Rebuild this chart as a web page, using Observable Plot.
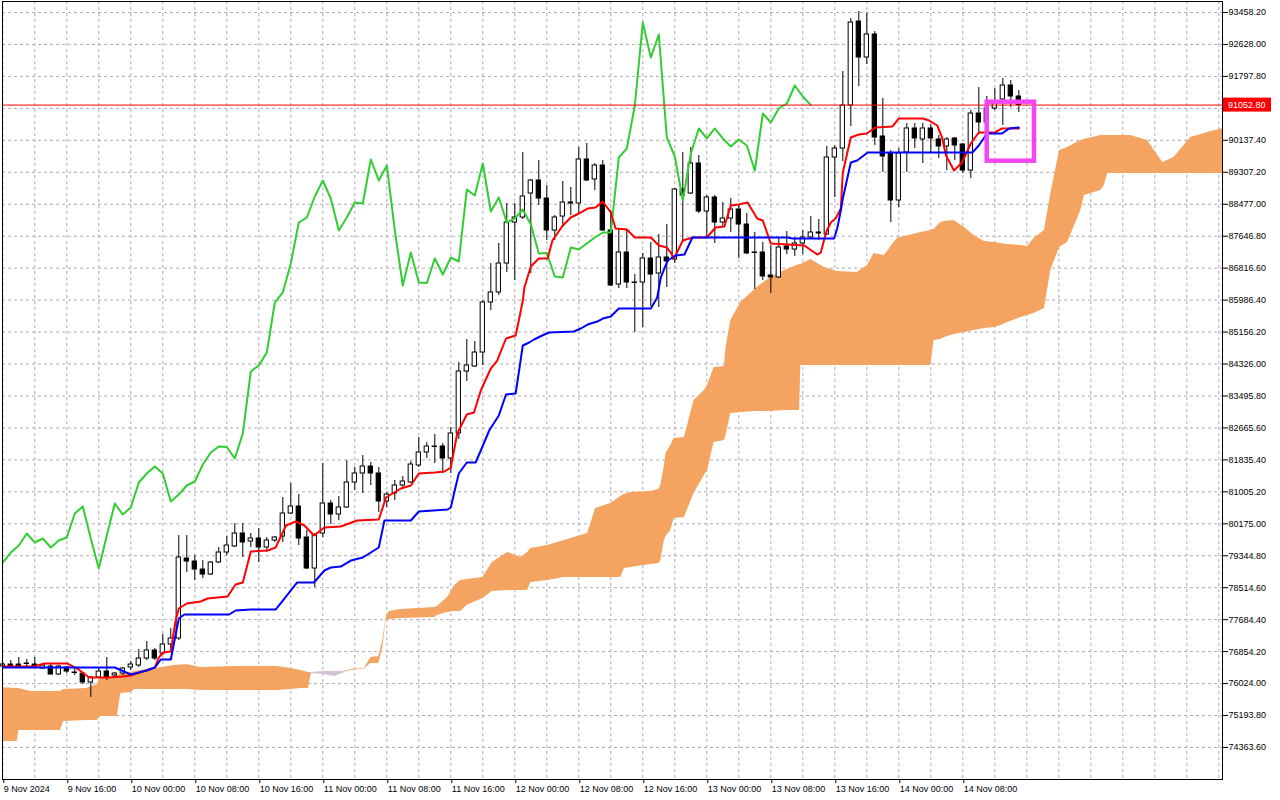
<!DOCTYPE html>
<html><head><meta charset="utf-8">
<script src="https://cdn.jsdelivr.net/npm/d3@7"></script>
<script src="https://cdn.jsdelivr.net/npm/@observablehq/plot@0.6"></script>
<style>body{margin:0;background:#fff;overflow:hidden}#chart{width:1280px;height:800px}</style>
</head><body><div id="chart"></div>
<script>
// H1 candles, 9 Nov 08:00 .. 14 Nov 15:00 (index 0..127)
const opens = [
76467,76519,76519,76545,76519,76415,76467,76259,76441,76311,
76285,76052,76181,76337,76233,76285,76441,76493,76675,76883,
76805,77039,77195,79273,79195,78987,78857,79169,79429,79585,
79923,79715,79793,79559,79741,79845,80442,80624,79819,79013,
79923,80702,80416,80598,81248,81482,81663,81482,80754,80962,
81170,81248,81689,82027,82183,82183,81871,82521,84131,84261,
84625,85924,86184,86937,88002,88132,88756,89094,88626,87795,
88158,88522,88496,89639,89120,89483,87795,86392,87223,86444,
86444,87067,86677,87093,87041,88860,88756,89535,88288,88652,
88002,88106,88340,87950,87223,87223,86626,86574,87379,87301,
87457,87613,87717,87691,89691,89925,91042,93224,92289,92887,
90237,89795,88574,89821,90445,90159,90445,90159,89977,90185,
90029,89353,90834,90600,90964,91198,91562,91276];
const highs = [
76571,76623,76701,76649,76701,76545,76519,76493,76467,76415,
76311,76207,76415,76701,76311,76441,76597,76909,77117,76935,
77299,77455,79871,79871,79351,79221,79195,79559,79845,80183,
80183,79923,80053,79819,79845,80858,81222,80936,80001,79923,
81741,80780,80884,81819,81637,81949,81767,81637,80988,81300,
81403,81793,82417,82287,82495,82261,82677,84365,84963,84911,
85976,86937,87457,88496,88496,89821,89120,89613,88964,88184,
89068,88912,89951,90055,89535,89613,88314,87847,87795,86651,
87197,87483,87691,87951,88886,89821,89951,89743,88704,88704,
88522,88626,88444,88236,87743,87483,87405,87613,87769,87613,
87795,88158,88080,89977,90003,91925,93302,93484,93432,92965,
91224,89873,89925,90574,90574,90574,90548,90263,90211,90211,
90055,90912,91510,91276,91484,91744,91692,91432];
const lows = [
76415,76415,76441,76441,76415,76402,76259,76233,76285,76233,
76000,75662,76155,76104,76155,76233,76363,76441,76623,76623,
76753,76935,77143,78909,78702,78753,78831,79143,79351,79559,
79299,79559,79169,79429,79689,79689,80416,79611,78987,78520,
79819,80157,80260,80572,81040,80962,81170,80468,80598,80780,
81118,81222,81637,81871,81741,81481,81481,82365,83872,84235,
84287,85716,86106,86703,86496,88080,86677,88444,87535,87535,
87873,88184,88236,89068,88834,87769,86340,86288,86288,85145,
85274,85820,85794,86314,86937,87535,88730,88236,87613,87457,
87873,87743,87067,87171,86262,86496,86158,86548,87171,87119,
87171,87587,87535,87665,88652,89587,90496,91536,92107,90003,
89302,88002,88392,89302,89925,89535,89821,89665,89353,89613,
89275,89146,90315,90445,90912,90523,90990,90860];
const closes = [
76519,76467,76467,76532,76467,76493,76259,76467,76337,76298,
76052,76181,76337,76181,76285,76415,76519,76675,76883,76675,
77039,77195,79299,79195,78987,78857,79169,79429,79611,79923,
79689,79793,79559,79741,79819,80442,80624,79793,79013,79871,
80702,80416,80598,81248,81482,81663,81482,80754,80936,81170,
81274,81715,82027,82183,82170,81871,82521,84131,84287,84625,
85924,86184,86937,88002,88132,88678,89094,88626,87795,88132,
88522,88496,89639,89094,89483,87795,86366,87223,86444,86431,
87067,86651,87093,86989,88860,88704,89535,88288,88652,88002,
88106,88340,87950,87197,87210,86600,86574,87353,87301,87457,
87613,87743,87743,89691,89925,91042,93198,92289,92887,90211,
89717,88574,89795,90445,90185,90445,90185,89977,90159,90003,
89353,90834,90600,90964,91094,91562,91276,91052.8];

// Tenkan-sen (red) and Kijun-sen (blue) as [bar, price] vertices
const tenkan = [[-0.3,76467],[3.9,76467],[5.2,76545],[8.1,76545],[9.3,76415],[10.8,76181],[13.1,76181],[15,76207],[16,76233],[17.5,76337],
[19,76441],[19.5,76701],[20,76831],[21,76857],[21.6,77662],[22,77974],[23,78104],[24.75,78156],[25.6,78234],[28.1,78286],
[29.1,78598],[30,78650],[31,79455],[33.1,79481],[34.1,79559],[35.4,80130],[36.6,80234],[37.7,80130],[38.9,79871],[40.2,80079],
[42.25,80105],[44.3,80260],[47,80286],[47.9,80858],[49.75,81092],[51,81170],[52,81482],[54,81508],[55.2,81534],[56,81638],
[56.8,82521],[58,83014],[58.9,83066],[59.75,83638],[61,84209],[61.8,84417],[62.9,84989],[64.1,85067],[64.5,85456],[65,85976],
[65.2,86314],[66,86859],[67,87067],[68.1,87067],[68.7,87535],[70,87925],[71,88132],[72,88236],[73.1,88366],[74.1,88392],
[75,88548],[76,88262],[76.6,87847],[78,87821],[79,87613],[81,87613],[82,87405],[83,87353],[83.5,87223],[83.9,87067],
[85,87535],[86.2,87613],[88,87613],[89.1,87873],[90.2,87899],[91,88444],[92,88470],[93.1,88522],[94.3,88106],[95,88054],
[96,87457],[98.1,87431],[100.2,87405],[101.8,87171],[102.25,87223],[102.9,87743],[103.5,88002],[104.1,88106],[104.75,88366],[105,89302],
[106,90211],[107,90289],[108,90315],[109.1,90471],[111.2,90497],[112,90704],[115,90704],[115.8,90652],[116.8,90523],[117.4,90211],
[117.9,89743],[118.9,89354],[119.9,89562],[121,90055],[122,90341],[123,90341],[124,90341],[124.9,90445],[127,90445]];
const kijun = [[-0.3,76441],[10,76441],[14,76441],[16,76259],[18,76363],[19,76441],[19.75,76649],[21,76649],[22,77714],[22.7,77818],
[28.3,77818],[29.1,77922],[31,77948],[34.1,77948],[35.2,78234],[36.8,78650],[38.9,78650],[40.2,78961],[41,79039],[42.25,79065],
[43.5,79221],[45,79299],[46,79429],[47,79559],[47.7,80260],[51,80260],[52,80494],[55.6,80546],[56,80598],[56.4,80962],
[57,81482],[58,81767],[59.1,81767],[59.75,82079],[60.8,82599],[62,82988],[62.9,83534],[64.1,83560],[64.5,84105],[65,84807],
[65.8,84885],[66.4,84963],[67.7,85093],[68.3,85145],[71.4,85171],[72.25,85249],[73.1,85352],[74.3,85430],[75,85508],[76,85560],
[77,85768],[81,85768],[81.8,86054],[82.25,86575],[83.1,87015],[84.1,87145],[85.2,87171],[86.2,87613],[98.1,87613],[98.7,87587],
[103.9,87587],[104.3,87846],[104.75,88314],[105,88626],[106,89561],[106.8,89613],[108.1,89821],[121.2,89821],[122,90003],[122.6,90185],
[123,90315],[124.9,90315],[125.8,90445],[127,90471]];

// Kumo: Senkou Span A / Span B vertices (bar index incl. 26 bars ahead)
const cloudIdx = [-0.3,1.8,2.0,3.5,7.2,7.6,10.5,11.8,12.2,13.5,
14.3,14.75,16,16.5,19,21.5,23,24.75,29,34.3,
36,37.25,38.2,38.6,40,41.5,42.5,43.2,43.5,45.2,
46,47,47.5,47.9,48.3,49.75,54,54.3,55.6,56.5,
57.25,58,60,61.2,63.1,64.75,65.6,66,68.1,70.2,
73.1,74.1,76,77.25,77.7,78.5,81,82,82.25,82.7,
82.9,83.5,83.9,85.2,86.4,87.7,88.1,88.9,90.2,90.4,
91,92.25,94.3,96,97.7,99.6,99.75,101,102.7,104.3,
106.8,108.1,108.9,110.2,111.8,114.75,116,116.4,117.25,117.7,
118.9,120.2,121.4,122.7,124,124.75,125.6,127.25,128.1,128.9,
130.2,131,132.1,133.1,134.75,135.2,137.25,137.7,138.1,141,
143.1,145,146.4,148.5,150.6,152.6];
const spanA = [75922,75896,75896,75818,75818,75870,75896,76000,76181,76181,
76233,76259,76311,76337,76415,76493,76519,76441,76467,76467,
76415,76363,76311,76285,76259,76207,76285,76363,76389,76415,
76701,76727,77143,77714,77896,77948,78000,78026,78260,78572,
78702,78728,78779,79169,79429,79299,79429,79533,79611,79741,
79923,80572,80702,80884,80936,80988,81014,81066,81170,81689,
82001,82209,82391,82417,83378,83638,83768,84235,84261,84755,
85456,85924,86314,86575,86755,86911,86911,87041,86833,86729,
86703,86885,87197,87145,87587,87743,87795,87821,88002,88028,
88054,87873,87665,87509,87483,87457,87431,87405,87379,87587,
87795,88756,89873,89951,90133,90159,90263,90263,90263,90263,
90133,89561,89691,90211,90341,90445];
const spanB = [74519,74519,74805,74805,74805,75038,75064,75064,75168,75168,
75168,75766,75792,75870,75870,75870,75870,75844,75844,75844,
75870,75896,75896,76311,76337,76337,76337,76337,76363,76402,
76545,76545,76961,77662,77688,77714,77740,77792,77870,77896,
77896,78052,78234,78416,78442,78442,78442,78650,78702,78779,
78779,78779,78779,78779,79013,79039,79117,79143,79221,79741,
79845,80001,80312,80338,80962,81430,81559,82287,82339,82469,
83040,83066,83092,83092,83118,83118,84287,84287,84287,84287,
84287,84287,84287,84287,84287,84287,84287,84937,84963,85015,
85093,85145,85197,85249,85274,85326,85404,85534,85586,85638,
85768,86755,87353,87483,88314,88704,88834,88964,89275,89275,
89275,89275,89275,89275,89275,89275];

const lastPrice = 91052.8;
const yTicks = [93458.2,92628.0,91797.8,90967.6,90137.4,89307.2,88477.0,87646.8,86816.6,85986.4,85156.2,84326.0,
83495.8,82665.6,81835.4,81005.2,80175.0,79344.8,78514.6,77684.4,76854.2,76024.0,75193.8,74363.6];
const xTickIdx = [0,8,16,24,32,40,48,56,64,72,80,88,96,104,112,120];
const xTickLabels = ["9 Nov 2024","9 Nov 16:00","10 Nov 00:00","10 Nov 08:00","10 Nov 16:00","11 Nov 00:00",
"11 Nov 08:00","11 Nov 16:00","12 Nov 00:00","12 Nov 08:00","12 Nov 16:00","13 Nov 00:00","13 Nov 08:00",
"13 Nov 16:00","14 Nov 00:00","14 Nov 08:00"];
// highlighted box (bar range, price range)
const boxBars = [123.05, 128.96];
const boxPrices = [89595, 91128];

const candles = opens.map((o,i)=>({i, open:o, high:highs[i], low:lows[i], close:closes[i]}));
const chikou = closes.slice(26).map((c,k)=>({i:k, c}));
const cloud = cloudIdx.map((i,k)=>({i, a:spanA[k], b:spanB[k]}));
const gridIdx = d3.range(0, 153, 4);

const chart = Plot.plot({
  width: 1280, height: 800,
  marginLeft: 2, marginRight: 58, marginTop: 1, marginBottom: 21,
  x: {type:"linear", domain:[-0.0375, 152.46], axis: null},
  y: {type:"linear", domain:[73532, 93744], axis: null},
  style: {fontFamily:"'Liberation Sans', Arial, sans-serif", fontSize:"9px", background:"#ffffff", color:"#000"},
  marks: [
    Plot.gridY(yTicks, {stroke:"#b2a9b6", strokeOpacity:1, strokeDasharray:"3,3"}),
    Plot.gridX(gridIdx, {stroke:"#b2a9b6", strokeOpacity:1, strokeDasharray:"3,3"}),
    Plot.areaY(cloud, {x:"i", y1:"b", y2:d=>Math.max(d.a,d.b), fill:"#f4a460", clip:true}),
    Plot.areaY(cloud, {x:"i", y1:"a", y2:d=>Math.max(d.a,d.b), fill:"#d8bfd8", clip:true}),
    Plot.ruleX(candles, {x:"i", y1:"low", y2:"high", stroke:"#000", strokeWidth:1}),
    Plot.rect(candles, {x1:d=>d.i-0.27, x2:d=>d.i+0.27, y1:"open", y2:"close",
      fill:d=>d.close>=d.open?"#fff":"#000", stroke:"#000", strokeWidth:1}),
    Plot.line(chikou, {x:"i", y:"c", stroke:"#32cd32", strokeWidth:2, clip:true}),
    Plot.line(tenkan, {x:d=>d[0], y:d=>d[1], stroke:"#ff0000", strokeWidth:2, clip:true}),
    Plot.line(kijun, {x:d=>d[0], y:d=>d[1], stroke:"#0000ff", strokeWidth:2, clip:true}),
    Plot.ruleY([lastPrice], {stroke:"#ff0000", strokeWidth:1}),
    Plot.rect([0], {x1:()=>boxBars[0], x2:()=>boxBars[1], y1:()=>boxPrices[0], y2:()=>boxPrices[1],
      fill:"none", stroke:"#f246f2", strokeWidth:4.5}),
    Plot.frame({stroke:"#000", strokeWidth:1}),
    Plot.axisY(yTicks, {anchor:"right", tickSize:5, tickPadding:1, label:null,
      tickFormat:d=>Math.abs(d-lastPrice)<400 ? "" : d.toFixed(2)}),
    Plot.axisX(xTickIdx, {anchor:"bottom", tickSize:4, tickPadding:2, label:null, textAnchor:"start", dx:1,
      tickFormat:d=>xTickLabels[xTickIdx.indexOf(d)]})
  ]
});
document.getElementById("chart").appendChild(chart);

// current price tag on the right scale
const py = chart.scale("y").apply(lastPrice);
const svg = d3.select(chart);
const g = svg.append("g").attr("text-anchor", "start");
g.append("rect").attr("x", 1223).attr("y", py-7).attr("width", 48).attr("height", 14).attr("fill", "#ff0000");
g.append("text").attr("x", 1228).attr("y", py).attr("dy", "0.35em").attr("fill", "#fff")
  .attr("text-anchor", "start")
  .attr("font-size", "9px").attr("font-family", "'Liberation Sans', Arial, sans-serif").text(lastPrice.toFixed(2));
</script>
</body></html>
